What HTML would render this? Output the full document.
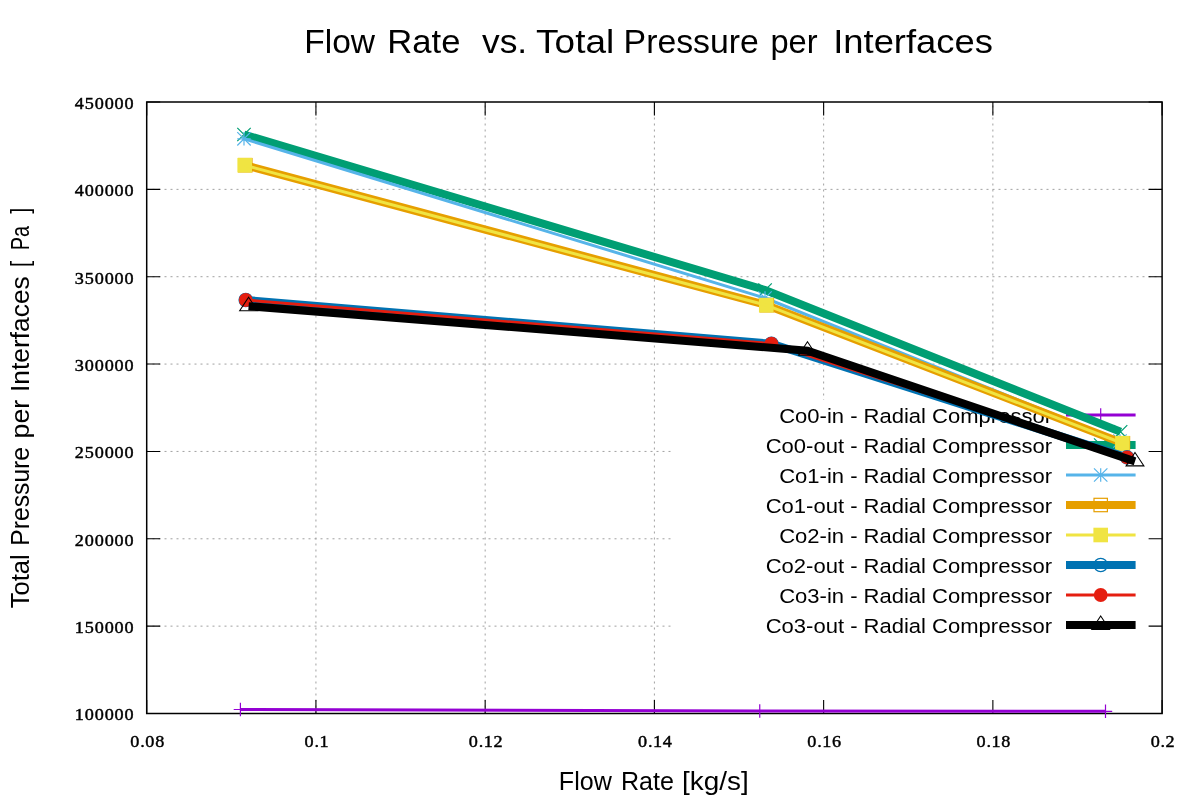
<!DOCTYPE html><html><head><meta charset="utf-8"><style>html,body{margin:0;padding:0;background:#fff;}svg{display:block;will-change:transform}</style></head><body>
<svg width="1200" height="800" viewBox="0 0 1200 800">
<rect width="1200" height="800" fill="#fff"/>
<g stroke="#a0a0a0" stroke-width="1" stroke-dasharray="2 4" fill="none"><line x1="146.5" y1="626.14" x2="1162.10" y2="626.14"/><line x1="146.5" y1="538.79" x2="1162.10" y2="538.79"/><line x1="146.5" y1="451.43" x2="1162.10" y2="451.43"/><line x1="146.5" y1="364.07" x2="1162.10" y2="364.07"/><line x1="146.5" y1="276.71" x2="1162.10" y2="276.71"/><line x1="146.5" y1="189.36" x2="1162.10" y2="189.36"/><line x1="315.93" y1="713.50" x2="315.93" y2="102.00"/><line x1="485.17" y1="713.50" x2="485.17" y2="102.00"/><line x1="654.40" y1="713.50" x2="654.40" y2="102.00"/><line x1="823.63" y1="713.50" x2="823.63" y2="102.00"/><line x1="992.87" y1="713.50" x2="992.87" y2="102.00"/></g>
<rect x="671" y="400" width="491" height="313.5" fill="#fff"/>
<path d="M146.70 713.50h13.5M1162.10 713.50h-13.5M146.70 626.14h13.5M1162.10 626.14h-13.5M146.70 538.79h13.5M1162.10 538.79h-13.5M146.70 451.43h13.5M1162.10 451.43h-13.5M146.70 364.07h13.5M1162.10 364.07h-13.5M146.70 276.71h13.5M1162.10 276.71h-13.5M146.70 189.36h13.5M1162.10 189.36h-13.5M146.70 102.00h13.5M1162.10 102.00h-13.5M146.70 713.50v-13.5M146.70 102.00v13.5M315.93 713.50v-13.5M315.93 102.00v13.5M485.17 713.50v-13.5M485.17 102.00v13.5M654.40 713.50v-13.5M654.40 102.00v13.5M823.63 713.50v-13.5M823.63 102.00v13.5M992.87 713.50v-13.5M992.87 102.00v13.5M1162.10 713.50v-13.5M1162.10 102.00v13.5" stroke="#000" stroke-width="1.1" fill="none"/>
<rect x="146.70" y="102.00" width="1015.40" height="611.50" stroke="#000" stroke-width="1.5" fill="none"/>
<text transform="translate(74.80 720.30) scale(1.05 1)" x="0.00 9.48 18.95 28.43 37.90 47.38" y="0" font-family="Liberation Serif, serif" font-size="17.3" fill="#000" stroke="#000" stroke-width="0.45">100000</text><text transform="translate(74.80 632.94) scale(1.05 1)" x="0.00 9.48 18.95 28.43 37.90 47.38" y="0" font-family="Liberation Serif, serif" font-size="17.3" fill="#000" stroke="#000" stroke-width="0.45">150000</text><text transform="translate(74.80 545.59) scale(1.05 1)" x="0.00 9.48 18.95 28.43 37.90 47.38" y="0" font-family="Liberation Serif, serif" font-size="17.3" fill="#000" stroke="#000" stroke-width="0.45">200000</text><text transform="translate(74.80 458.23) scale(1.05 1)" x="0.00 9.48 18.95 28.43 37.90 47.38" y="0" font-family="Liberation Serif, serif" font-size="17.3" fill="#000" stroke="#000" stroke-width="0.45">250000</text><text transform="translate(74.80 370.87) scale(1.05 1)" x="0.00 9.48 18.95 28.43 37.90 47.38" y="0" font-family="Liberation Serif, serif" font-size="17.3" fill="#000" stroke="#000" stroke-width="0.45">300000</text><text transform="translate(74.80 283.51) scale(1.05 1)" x="0.00 9.48 18.95 28.43 37.90 47.38" y="0" font-family="Liberation Serif, serif" font-size="17.3" fill="#000" stroke="#000" stroke-width="0.45">350000</text><text transform="translate(74.80 196.16) scale(1.05 1)" x="0.00 9.48 18.95 28.43 37.90 47.38" y="0" font-family="Liberation Serif, serif" font-size="17.3" fill="#000" stroke="#000" stroke-width="0.45">400000</text><text transform="translate(74.80 108.80) scale(1.05 1)" x="0.00 9.48 18.95 28.43 37.90 47.38" y="0" font-family="Liberation Serif, serif" font-size="17.3" fill="#000" stroke="#000" stroke-width="0.45">450000</text><text transform="translate(130.27 747.00) scale(1.05 1)" x="0.00 9.48 14.24 23.71" y="0" font-family="Liberation Serif, serif" font-size="17.3" fill="#000" stroke="#000" stroke-width="0.45">0.08</text><text transform="translate(304.48 747.00) scale(1.05 1)" x="0.00 9.48 14.24" y="0" font-family="Liberation Serif, serif" font-size="17.3" fill="#000" stroke="#000" stroke-width="0.45">0.1</text><text transform="translate(468.74 747.00) scale(1.05 1)" x="0.00 9.48 14.24 23.71" y="0" font-family="Liberation Serif, serif" font-size="17.3" fill="#000" stroke="#000" stroke-width="0.45">0.12</text><text transform="translate(637.98 747.00) scale(1.05 1)" x="0.00 9.48 14.24 23.71" y="0" font-family="Liberation Serif, serif" font-size="17.3" fill="#000" stroke="#000" stroke-width="0.45">0.14</text><text transform="translate(807.21 747.00) scale(1.05 1)" x="0.00 9.48 14.24 23.71" y="0" font-family="Liberation Serif, serif" font-size="17.3" fill="#000" stroke="#000" stroke-width="0.45">0.16</text><text transform="translate(976.44 747.00) scale(1.05 1)" x="0.00 9.48 14.24 23.71" y="0" font-family="Liberation Serif, serif" font-size="17.3" fill="#000" stroke="#000" stroke-width="0.45">0.18</text><text transform="translate(1150.65 747.00) scale(1.05 1)" x="0.00 9.48 14.24" y="0" font-family="Liberation Serif, serif" font-size="17.3" fill="#000" stroke="#000" stroke-width="0.45">0.2</text>
<text transform="translate(304.28 53.00) scale(1.0320 1)" text-anchor="start" font-family="Liberation Sans, sans-serif" font-size="32.5" fill="#000" xml:space="preserve">Flow</text><text transform="translate(387.30 53.00) scale(1.0649 1)" text-anchor="start" font-family="Liberation Sans, sans-serif" font-size="32.5" fill="#000" xml:space="preserve">Rate</text><text transform="translate(482.00 53.00) scale(1.0883 1)" text-anchor="start" font-family="Liberation Sans, sans-serif" font-size="32.5" fill="#000" xml:space="preserve">vs.</text><text transform="translate(536.12 53.00) scale(1.1371 1)" text-anchor="start" font-family="Liberation Sans, sans-serif" font-size="32.5" fill="#000" xml:space="preserve">Total</text><text transform="translate(623.61 53.00) scale(1.0401 1)" text-anchor="start" font-family="Liberation Sans, sans-serif" font-size="32.5" fill="#000" xml:space="preserve">Pressure</text><text transform="translate(770.46 53.00) scale(1.0049 1)" text-anchor="start" font-family="Liberation Sans, sans-serif" font-size="32.5" fill="#000" xml:space="preserve">per</text><text transform="translate(833.16 53.00) scale(1.1203 1)" text-anchor="start" font-family="Liberation Sans, sans-serif" font-size="32.5" fill="#000" xml:space="preserve">Interfaces</text>
<text transform="translate(558.84 789.60) scale(1.0032 1)" text-anchor="start" font-family="Liberation Sans, sans-serif" font-size="25" fill="#000" xml:space="preserve">Flow</text><text transform="translate(620.94 789.60) scale(1.0032 1)" text-anchor="start" font-family="Liberation Sans, sans-serif" font-size="25" fill="#000" xml:space="preserve">Rate</text><text transform="translate(682.00 789.60) scale(1.1173 1)" text-anchor="start" font-family="Liberation Sans, sans-serif" font-size="25" fill="#000" xml:space="preserve">[kg/s]</text>
<text transform="translate(28.90 608.20) rotate(-90) scale(1.0003 1)" text-anchor="start" font-family="Liberation Sans, sans-serif" font-size="25.5" fill="#000" xml:space="preserve">Total</text><text transform="translate(28.90 545.73) rotate(-90) scale(0.9686 1)" text-anchor="start" font-family="Liberation Sans, sans-serif" font-size="25.5" fill="#000" xml:space="preserve">Pressure</text><text transform="translate(28.90 438.47) rotate(-90) scale(1.0502 1)" text-anchor="start" font-family="Liberation Sans, sans-serif" font-size="25.5" fill="#000" xml:space="preserve">per</text><text transform="translate(28.90 391.96) rotate(-90) scale(1.0340 1)" text-anchor="start" font-family="Liberation Sans, sans-serif" font-size="25.5" fill="#000" xml:space="preserve">Interfaces</text><text transform="translate(28.90 267.33) rotate(-90) scale(0.8964 1)" text-anchor="start" font-family="Liberation Sans, sans-serif" font-size="25.5" fill="#000" xml:space="preserve">[</text><text transform="translate(28.90 250.30) rotate(-90) scale(0.7783 1)" text-anchor="start" font-family="Liberation Sans, sans-serif" font-size="25.5" fill="#000" xml:space="preserve">Pa</text><text transform="translate(28.90 213.75) rotate(-90) scale(0.8695 1)" text-anchor="start" font-family="Liberation Sans, sans-serif" font-size="25.5" fill="#000" xml:space="preserve">]</text>
<text transform="translate(1052.00 422.60) scale(1.0745 1)" text-anchor="end" font-family="Liberation Sans, sans-serif" font-size="20.5" fill="#000" xml:space="preserve">Co0-in - Radial Compressor</text><text transform="translate(1052.00 452.60) scale(1.0745 1)" text-anchor="end" font-family="Liberation Sans, sans-serif" font-size="20.5" fill="#000" xml:space="preserve">Co0-out - Radial Compressor</text><text transform="translate(1052.00 482.60) scale(1.0745 1)" text-anchor="end" font-family="Liberation Sans, sans-serif" font-size="20.5" fill="#000" xml:space="preserve">Co1-in - Radial Compressor</text><text transform="translate(1052.00 512.60) scale(1.0745 1)" text-anchor="end" font-family="Liberation Sans, sans-serif" font-size="20.5" fill="#000" xml:space="preserve">Co1-out - Radial Compressor</text><text transform="translate(1052.00 542.60) scale(1.0745 1)" text-anchor="end" font-family="Liberation Sans, sans-serif" font-size="20.5" fill="#000" xml:space="preserve">Co2-in - Radial Compressor</text><text transform="translate(1052.00 572.60) scale(1.0745 1)" text-anchor="end" font-family="Liberation Sans, sans-serif" font-size="20.5" fill="#000" xml:space="preserve">Co2-out - Radial Compressor</text><text transform="translate(1052.00 602.60) scale(1.0745 1)" text-anchor="end" font-family="Liberation Sans, sans-serif" font-size="20.5" fill="#000" xml:space="preserve">Co3-in - Radial Compressor</text><text transform="translate(1052.00 632.60) scale(1.0745 1)" text-anchor="end" font-family="Liberation Sans, sans-serif" font-size="20.5" fill="#000" xml:space="preserve">Co3-out - Radial Compressor</text><path d="M1094.00 415.00h13.40M1100.70 408.30v13.40" stroke="#9400d3" stroke-width="1.2" fill="none"/><path d="M1066 415H1135.6" stroke="#9400d3" stroke-width="3" fill="none"/><path d="M1094.00 438.30l13.40 13.40M1094.00 451.70l13.40 -13.40" stroke="#009e73" stroke-width="1.2" fill="none"/><path d="M1066 445H1135.6" stroke="#009e73" stroke-width="8" fill="none"/><path d="M1094.00 475.00h13.40M1100.70 468.30v13.40M1094.00 468.30l13.40 13.40M1094.00 481.70l13.40 -13.40" stroke="#56b4e9" stroke-width="1.2" fill="none"/><path d="M1066 475H1135.6" stroke="#56b4e9" stroke-width="3" fill="none"/><rect x="1094.00" y="498.30" width="13.40" height="13.40" stroke="#e69f00" stroke-width="1.2" fill="none"/><path d="M1066 505H1135.6" stroke="#e69f00" stroke-width="8" fill="none"/><rect x="1093.40" y="527.70" width="14.60" height="14.60" fill="#f0e442"/><path d="M1066 535H1135.6" stroke="#f0e442" stroke-width="3" fill="none"/><circle cx="1100.70" cy="565.00" r="6.70" stroke="#0072b2" stroke-width="1.2" fill="none"/><path d="M1066 565H1135.6" stroke="#0072b2" stroke-width="8" fill="none"/><circle cx="1100.70" cy="595.00" r="6.90" fill="#e51e10"/><path d="M1066 595H1135.6" stroke="#e51e10" stroke-width="3" fill="none"/><path d="M1100.70 616.07L1109.63 629.47L1091.77 629.47Z" stroke="#000000" stroke-width="1.05" fill="none" stroke-linejoin="miter"/><path d="M1066 625H1135.6" stroke="#000000" stroke-width="8" fill="none"/>
<path d="M233.70 709.50h13.40M240.40 702.80v13.40" stroke="#9400d3" stroke-width="1.2" fill="none"/>
<path d="M753.05 711.00h13.40M759.75 704.30v13.40" stroke="#9400d3" stroke-width="1.2" fill="none"/>
<path d="M1098.80 711.30h13.40M1105.50 704.60v13.40" stroke="#9400d3" stroke-width="1.2" fill="none"/>
<path d="M240.40 709.50L759.75 711.00L1105.50 711.30" stroke="#9400d3" stroke-width="3" fill="none" stroke-linejoin="miter" stroke-linecap="butt"/>
<path d="M237.30 127.80l13.40 13.40M237.30 141.20l13.40 -13.40" stroke="#009e73" stroke-width="1.2" fill="none"/>
<path d="M758.40 283.30l13.40 13.40M758.40 296.70l13.40 -13.40" stroke="#009e73" stroke-width="1.2" fill="none"/>
<path d="M1113.90 425.10l13.40 13.40M1113.90 438.50l13.40 -13.40" stroke="#009e73" stroke-width="1.2" fill="none"/>
<path d="M244.00 134.50L765.10 290.00L1120.60 431.80" stroke="#009e73" stroke-width="8" fill="none" stroke-linejoin="miter" stroke-linecap="butt"/>
<path d="M237.30 138.80h13.40M244.00 132.10v13.40M237.30 132.10l13.40 13.40M237.30 145.50l13.40 -13.40" stroke="#56b4e9" stroke-width="1.2" fill="none"/>
<path d="M758.30 298.00h13.40M765.00 291.30v13.40M758.30 291.30l13.40 13.40M758.30 304.70l13.40 -13.40" stroke="#56b4e9" stroke-width="1.2" fill="none"/>
<path d="M1113.30 441.00h13.40M1120.00 434.30v13.40M1113.30 434.30l13.40 13.40M1113.30 447.70l13.40 -13.40" stroke="#56b4e9" stroke-width="1.2" fill="none"/>
<path d="M244.00 138.80L765.00 298.00L1120.00 441.00" stroke="#56b4e9" stroke-width="3" fill="none" stroke-linejoin="miter" stroke-linecap="butt"/>
<rect x="238.60" y="158.50" width="13.40" height="13.40" stroke="#e69f00" stroke-width="1.2" fill="none"/>
<rect x="760.20" y="298.50" width="13.40" height="13.40" stroke="#e69f00" stroke-width="1.2" fill="none"/>
<rect x="1116.20" y="436.55" width="13.40" height="13.40" stroke="#e69f00" stroke-width="1.2" fill="none"/>
<path d="M245.30 165.20L766.90 305.20L1122.90 443.25" stroke="#e69f00" stroke-width="8" fill="none" stroke-linejoin="miter" stroke-linecap="butt"/>
<rect x="237.40" y="157.90" width="14.60" height="14.60" fill="#f0e442"/>
<rect x="758.95" y="297.90" width="14.60" height="14.60" fill="#f0e442"/>
<rect x="1115.10" y="435.95" width="14.60" height="14.60" fill="#f0e442"/>
<path d="M244.70 165.20L766.25 305.20L1122.40 443.25" stroke="#f0e442" stroke-width="3" fill="none" stroke-linejoin="miter" stroke-linecap="butt"/>
<circle cx="245.75" cy="300.00" r="6.70" stroke="#0072b2" stroke-width="1.2" fill="none"/>
<circle cx="771.40" cy="343.70" r="6.70" stroke="#0072b2" stroke-width="1.2" fill="none"/>
<circle cx="1127.00" cy="457.40" r="6.70" stroke="#0072b2" stroke-width="1.2" fill="none"/>
<path d="M245.75 300.00L771.40 343.70L1127.00 457.40" stroke="#0072b2" stroke-width="8" fill="none" stroke-linejoin="miter" stroke-linecap="butt"/>
<circle cx="245.75" cy="300.00" r="6.90" fill="#e51e10"/>
<circle cx="771.40" cy="343.70" r="6.90" fill="#e51e10"/>
<circle cx="1127.00" cy="457.40" r="6.90" fill="#e51e10"/>
<path d="M245.75 300.00L771.40 343.70L1127.00 457.40" stroke="#e51e10" stroke-width="3" fill="none" stroke-linejoin="miter" stroke-linecap="butt"/>
<path d="M248.60 297.27L257.53 310.67L239.67 310.67Z" stroke="#000000" stroke-width="1.05" fill="none" stroke-linejoin="miter"/>
<path d="M807.50 341.77L816.43 355.17L798.57 355.17Z" stroke="#000000" stroke-width="1.05" fill="none" stroke-linejoin="miter"/>
<path d="M1135.00 452.47L1143.93 465.87L1126.07 465.87Z" stroke="#000000" stroke-width="1.05" fill="none" stroke-linejoin="miter"/>
<path d="M248.60 306.20L807.50 350.70L1135.00 461.40" stroke="#000000" stroke-width="8" fill="none" stroke-linejoin="miter" stroke-linecap="butt"/>
</svg></body></html>
